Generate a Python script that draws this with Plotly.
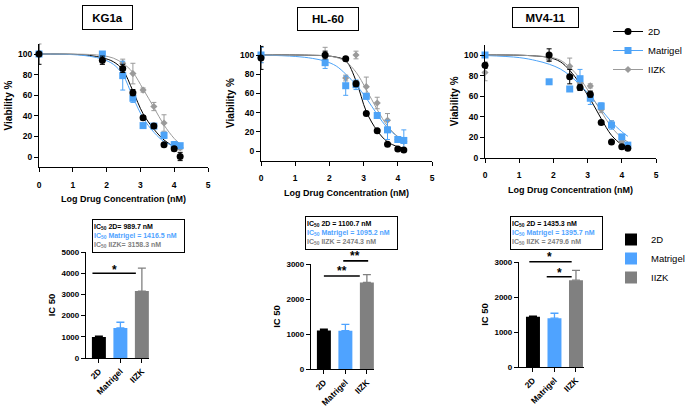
import plotly.graph_objects as go

# ---------------- data ----------------
cells = ["KG1a", "HL-60", "MV4-11"]
groups = ["2D", "Matrigel", "IIZK"]
log_conc = [0, 1.875, 2.477, 2.778, 3.079, 3.398, 3.699, 4.0, 4.176]
fit_x = [0, 1, 1.5, 1.88, 2.2, 2.48, 2.78, 3.08, 3.4, 3.7, 4.0, 4.18]

# viability means (%) and SD
kg1a_2d = [100, 94, 86, 62.5, 38, 30, 12, 8, 0.5]
kg1a_2d_err = [10, 4, 4, 3, 2, 2, 1, 2, 4]
kg1a_mat = [100, 100, 79, 57, 30.5, 30, 21, 12, 11]
kg1a_mat_err = [0, 1, 14, 4, 1, 1, 3, 3, 1]
kg1a_iizk = [100, 93, 91, 81, 65, 49, 33, 10, 9]
kg1a_iizk_err = [0, 3, 4, 10, 2, 4, 8, 3, 2]

hl60_2d = [97, 100, 96, 70, 39, 21, 7, 2, 1]
hl60_2d_err = [12, 4, 2, 3, 1, 1, 1, 1, 1]
hl60_mat = [100, 92, 68, 69, 57, 37, 22, 12, 11]
hl60_mat_err = [8, 6, 10, 5, 3, 3, 10, 2, 11]
hl60_iizk = [100, 100, 76, 100, 67, 50, 32, 12, 10]
hl60_iizk_err = [8, 8, 3, 4, 10, 6, 7, 1, 2]

mv411_2d = [90, 100, 79, 68.5, 62, 34.5, 15.5, 11, 9.5]
mv411_2d_err = [3, 6, 7, 3, 3, 1, 1, 1, 1]
mv411_mat = [100, 74, 67, 77, 58, 50.5, 32, 20.5, 12.5]
mv411_mat_err = [1, 1, 2, 9, 6, 3, 4, 1, 1]
mv411_iizk = [83, 96, 89, 73, 70, 47, 33, 16, 12]
mv411_iizk_err = [8, 2, 8, 3, 2, 3, 3, 2, 2]

# fitted curves
kg1a_2d_fit = [100, 99.7, 98.6, 96.3, 92.5, 84.5, 64, 42, 27, 16.5, 10, 7]
kg1a_mat_fit = [100, 99.4, 97.8, 95, 90, 80, 58, 38, 24, 15, 10.5, 8.5]
kg1a_iizk_fit = [100, 99.9, 99.5, 98.5, 96, 91, 82, 66, 48, 31, 18, 12.5]
hl60_2d_fit = [100, 100, 99.7, 99.2, 97.8, 94, 73, 41, 21, 9.5, 4.5, 3]
hl60_mat_fit = [100, 98.5, 96.5, 93.5, 88.5, 80, 69, 55, 38, 24, 15, 12]
hl60_iizk_fit = [100, 99.9, 99.7, 99.3, 97.5, 93, 82, 64, 43, 26, 15, 11]
mv411_2d_fit = [100, 99.8, 99, 97.5, 93.5, 85, 72, 57, 38, 22, 13, 10]
mv411_mat_fit = [99.5, 97.5, 94.5, 91, 86.5, 80, 71, 60, 47, 35, 25.5, 21]
mv411_iizk_fit = [100, 99.8, 99, 98, 95, 88, 77, 62, 45, 30, 19.5, 15.5]

# IC50 (nM) bar data
kg1a_ic50 = [989.7, 1416.5, 3158.3]
kg1a_ic50_err = [40, 270, 1080]
hl60_ic50 = [1100.7, 1095.2, 2474.3]
hl60_ic50_err = [40, 180, 220]
mv411_ic50 = [1435.3, 1395.7, 2479.6]
mv411_ic50_err = [20, 140, 280]

# ---------------- style ----------------
W, H = 685, 408
FONT = "Liberation Sans"
BLACK, BLUE, GRAY_L, GRAY_B = "#000000", "#4da3f7", "#9a9a9a", "#808080"
line_cols = [BLACK, BLUE, GRAY_L]
bar_cols = [BLACK, "#4fa3ff", GRAY_B]
symbols = ["circle", "square", "diamond"]
msizes = [7, 7, 5.5]


def fx(p):
    return p / W


def fy(p):
    return 1 - p / H


fig = go.Figure()

panels = [
    ([kg1a_2d, kg1a_mat, kg1a_iizk], [kg1a_2d_err, kg1a_mat_err, kg1a_iizk_err],
     [kg1a_2d_fit, kg1a_mat_fit, kg1a_iizk_fit]),
    ([hl60_2d, hl60_mat, hl60_iizk], [hl60_2d_err, hl60_mat_err, hl60_iizk_err],
     [hl60_2d_fit, hl60_mat_fit, hl60_iizk_fit]),
    ([mv411_2d, mv411_mat, mv411_iizk], [mv411_2d_err, mv411_mat_err, mv411_iizk_err],
     [mv411_2d_fit, mv411_mat_fit, mv411_iizk_fit]),
]

for p, (vals, errs, fits) in enumerate(panels):
    xa = "x" if p == 0 else f"x{p+1}"
    ya = "y" if p == 0 else f"y{p+1}"
    for g in range(3):
        fig.add_trace(go.Scatter(
            x=fit_x, y=fits[g], mode="lines", line=dict(color=line_cols[g], width=1, shape="spline"),
            xaxis=xa, yaxis=ya, showlegend=False, hoverinfo="skip", cliponaxis=False))
    for g in [2, 1, 0]:
        fig.add_trace(go.Scatter(
            x=log_conc, y=vals[g], mode="markers",
            marker=dict(symbol=symbols[g], size=msizes[g], color=line_cols[g]),
            error_y=dict(type="data", array=errs[g], color=line_cols[g], thickness=1, width=2.5),
            xaxis=xa, yaxis=ya, showlegend=False, cliponaxis=False))

# legend-only entries for the curve panels
for g in range(3):
    fig.add_trace(go.Scatter(
        x=[None], y=[None], mode="lines+markers", name=groups[g],
        line=dict(color=line_cols[g], width=1),
        marker=dict(symbol=symbols[g], size=msizes[g], color=line_cols[g]),
        xaxis="x3", yaxis="y3", legend="legend"))

bars = [(kg1a_ic50, kg1a_ic50_err), (hl60_ic50, hl60_ic50_err), (mv411_ic50, mv411_ic50_err)]
for p, (vals, errs) in enumerate(bars):
    xa, ya = f"x{p+4}", f"y{p+4}"
    for g in range(3):
        fig.add_trace(go.Bar(
            x=[groups[g]], y=[vals[g]], width=0.65, name=groups[g],
            marker=dict(color=bar_cols[g], line=dict(width=0)),
            error_y=dict(type="data", symmetric=False, array=[errs[g]], arrayminus=[0],
                         color=bar_cols[g], thickness=1.3, width=4),
            xaxis=xa, yaxis=ya, showlegend=(p == 2), legend="legend2"))

axis_base = dict(showline=True, linecolor="black", linewidth=1.3, ticks="outside", ticklen=4,
                 tickwidth=1.2, tickcolor="black", showgrid=False, zeroline=False, automargin=False,
                 tickfont=dict(family=FONT, size=8.5, color="black", weight="bold"))

line_dom = [([39, 208], [43.7, 167.3], [-10, 110]),
            ([261, 432], [45.4, 160.6], [-10, 110]),
            ([485, 656], [44.7, 158], [0, 110])]
bar_dom = [([86, 149.4], [252, 358], [-0.6, 2.35], [0, 5000], list(range(0, 5001, 1000))),
           ([311, 374.4], [264, 369], [-0.6, 2.35], [0, 3000], list(range(0, 3001, 1000))),
           ([519, 583.5], [262, 367], [-0.65, 2.35], [0, 3000], list(range(0, 3001, 1000)))]

layout_axes = {}
for p, (dx, dy, yr) in enumerate(line_dom):
    xk = "xaxis" if p == 0 else f"xaxis{p+1}"
    yk = "yaxis" if p == 0 else f"yaxis{p+1}"
    ya = "y" if p == 0 else f"y{p+1}"
    xa = "x" if p == 0 else f"x{p+1}"
    layout_axes[xk] = dict(axis_base, domain=[fx(dx[0]), fx(dx[1])], range=[0, 5], anchor=ya,
                           tickvals=[0, 1, 2, 3, 4, 5], ticklabelstandoff=5,
                           title=dict(text="Log Drug Concentration (nM)", standoff=7,
                                      font=dict(family=FONT, size=9, color="black", weight="bold")))
    layout_axes[yk] = dict(axis_base, domain=[fy(dy[1]), fy(dy[0])], range=yr, anchor=xa,
                           tickvals=[0, 20, 40, 60, 80, 100],
                           title=dict(text="Viability %", standoff=3,
                                      font=dict(family=FONT, size=10, color="black", weight="bold")))

for p, (dx, dy, xr, yr, tv) in enumerate(bar_dom):
    n = p + 4
    layout_axes[f"xaxis{n}"] = dict(axis_base, domain=[fx(dx[0]), fx(dx[1])], range=xr, anchor=f"y{n}",
                                    type="category", categoryorder="array", categoryarray=groups,
                                    tickangle=-45)
    layout_axes[f"yaxis{n}"] = dict(axis_base, domain=[fy(dy[1]), fy(dy[0])], range=yr, anchor=f"x{n}",
                                    tickvals=tv, tickfont=dict(family=FONT, size=8, color="black", weight="bold"),
                                    title=dict(text="IC 50", standoff=4,
                                               font=dict(family=FONT, size=9.5, color="black", weight="bold")))

annotations = []
# cell-line title boxes
for name, cx, cy, w, h in [("KG1a", 107.5, 18, 47, 21), ("HL-60", 328, 19, 58, 20), ("MV4-11", 545.5, 17.5, 63, 17)]:
    annotations.append(dict(text=f"<b>{name}</b>", x=fx(cx), y=fy(cy), xref="paper", yref="paper",
                            xanchor="center", yanchor="middle",
                            showarrow=False, width=w, height=h, bordercolor="black", borderwidth=1,
                            borderpad=1, font=dict(family=FONT, size=11.5, color="black")))

# IC50 text boxes
ic_texts = [
    (kg1a_ic50, ["2D= ", "Matrigel = ", "IIZK= "], 138.5, 236),
    (hl60_ic50, ["2D = ", "Matrigel = ", "IIZK = "], 351, 233),
    (mv411_ic50, ["2D = ", "Matrigel = ", "IIZK = "], 556, 232.5),
]
for vals, labs, cx, cy in ic_texts:
    cols = [BLACK, "#4fa3ff", GRAY_B]
    lines = [f"<span style='color:{cols[i]}'><b>IC<sub>50</sub> {labs[i]}{vals[i]} nM</b></span>" for i in range(3)]
    annotations.append(dict(text="<br>".join(lines), x=fx(cx), y=fy(cy), xref="paper", yref="paper",
                            xanchor="center", yanchor="middle",
                            showarrow=False, width=89, height=30, align="left", bordercolor="black",
                            borderwidth=1, borderpad=1, font=dict(family=FONT, size=7)))

# significance marks
shapes = []
sig = [
    # (axis n, x0, x1, y line (domain), label, label x, label y (domain))
    (4, -0.3, 1.72, 0.80, "*", 0.71, 0.83),
    (5, 0.0, 1.67, 0.886, "**", 0.82, 0.933),
    (5, 0.9, 2.06, 1.03, "**", 1.47, 1.076),
    (6, -0.17, 1.8, 1.003, "*", 0.79, 1.048),
    (6, 0.64, 1.8, 0.86, "*", 1.22, 0.895),
]
for n, x0, x1, yl, lab, lx, ly in sig:
    shapes.append(dict(type="line", xref=f"x{n}", yref=f"y{n} domain", x0=x0, x1=x1, y0=yl, y1=yl,
                       line=dict(color="black", width=1.6)))
    annotations.append(dict(text=f"<b>{lab}</b>", xref=f"x{n}", yref=f"y{n} domain", x=lx, y=ly,
                            xanchor="center", yanchor="middle",
                            showarrow=False, font=dict(family=FONT, size=12, color="black")))

fig.update_layout(
    width=W, height=H, margin=dict(l=0, r=0, t=0, b=0, autoexpand=False),
    paper_bgcolor="white", plot_bgcolor="white",
    font=dict(family=FONT, color="black"),
    barmode="overlay",
    annotations=annotations, shapes=shapes,
    legend=dict(x=fx(608), y=fy(17), xanchor="left", yanchor="top", bgcolor="rgba(0,0,0,0)",
                font=dict(family=FONT, size=9.5, color="black"), tracegroupgap=0),
    legend2=dict(x=fx(611), y=fy(225), xanchor="left", yanchor="top", bgcolor="rgba(0,0,0,0)",
                 font=dict(family=FONT, size=9.5, color="black")),
    **layout_axes,
)

fig.write_html("out.html", config={"displayModeBar": False},
               post_script="document.body.style.margin='0px';")
